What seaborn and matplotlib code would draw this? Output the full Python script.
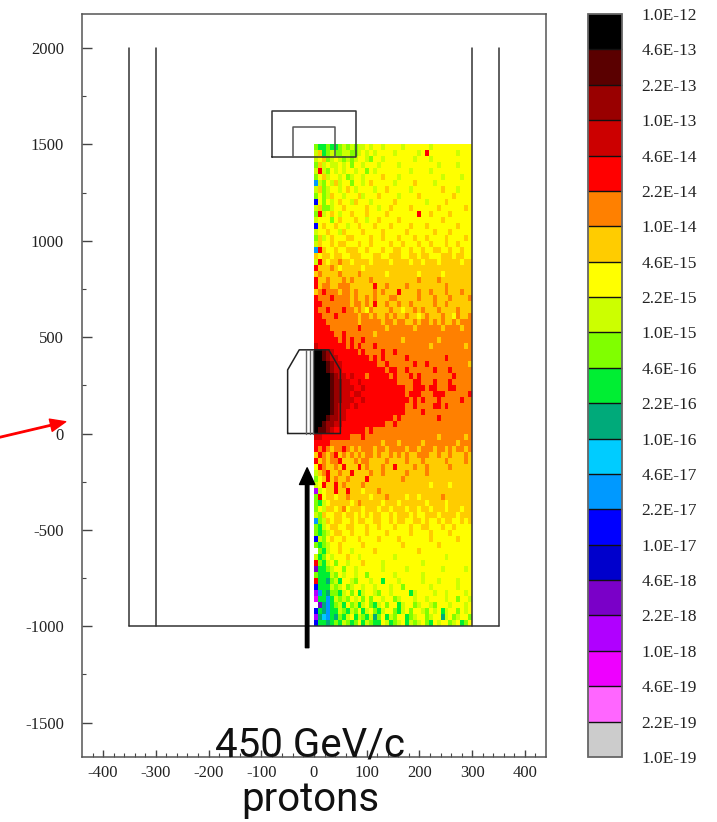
import numpy as np
import pandas as pd
import matplotlib
matplotlib.use("Agg")
import matplotlib.pyplot as plt
from matplotlib.colors import ListedColormap
import seaborn as sns

# colour classes, bottom of the scale first
level_colors = ["#cccccc", "#ff66ff", "#ee00ff", "#b000ff", "#7a00c8", "#0000cc", "#0000ff",
                "#0099ff", "#00ccff", "#00aa7a", "#00ee33", "#80ff00", "#ccff00", "#ffff00",
                "#ffcc00", "#ff8000", "#ff0000", "#cc0000", "#990000", "#5a0000", "#000000"]
level_labels = ["1.0E-19", "2.2E-19", "4.6E-19", "1.0E-18", "2.2E-18", "4.6E-18", "1.0E-17",
                "2.2E-17", "4.6E-17", "1.0E-16", "2.2E-16", "4.6E-16", "1.0E-15", "2.2E-15",
                "4.6E-15", "1.0E-14", "2.2E-14", "4.6E-14", "1.0E-13", "2.2E-13", "4.6E-13",
                "1.0E-12"]
level_codes = "abcdefghijklmnopqrstu"

# map: x 0..300, y 1500 (top) .. -1000, one letter = one colour class
map_rows = [
    "lkklkklmlmlmmnmnnmnnnnmnnnnnnmnnnnnnnnnn",
    "moklmllmmllmnmnmnnnnmnnnnnmnqnnnnnnnmnnn",
    "mnolmnmlmlmnnmlnnmnnnnnnnmnnnmnnnnnnnnnn",
    "lomnmmnmnlnnmnnnmnnnnmnnnnnnnnnmnnnnmnnn",
    "mqmlnmnmnnmnnlnmnnnnnnnnmnnnnmnnnnnnnnnn",
    "lnomnnmnlmnnmnnnnonnnmnnnnnnnnnnmnnnnmnn",
    "hmlnmomnnlnnmnonnnnnmnnnnonnnnmnnnnnnnnn",
    "molmnnmnonmnnnnmnnonnnnnmnnnnnnnonnnmnnn",
    "lnlmonnmnnnomnnnonnnnmnnnnonnnnnnnnonnnn",
    "gnlnmnonnmonnnmnnnnnonnnnnnnmnnnnonnnnnn",
    "mollmnnonnnnnonnmnnonnnnonnnnnnonnnnnnon",
    "lqmnonmnnonnnonnnnonnnnnnnqnnonnnnonnnnn",
    "mnnnlnonnnonnmnnonnnnonnnnnnnnnnonnnnnnn",
    "gnonnonnmnnonnnonnnonnnnonnnonnnnnnnonnn",
    "mnnonnmonnnnonnnnonnnnnonnnnnnonnnonnnnn",
    "lomnonnnoonnnnonnonnnonnnonnonnnnonnnnon",
    "monnonoonnnonnonnnnonnonnnonnonnnonnonnn",
    "hqonnonnooonnonnnonnoonnonnonnoonnonnonn",
    "onoonoonnooonnnoonnooonnoonoonnnooonoonn",
    "mqonoopoonoooonoooonoooonoonooonooooonoo",
    "qoooponooooonooooooooooooooooooooooooooo",
    "opoooopoooopoooooonooooooonooooonooooooo",
    "qoopooopopoooopooooooooooopoooopoooooooo",
    "qoppoopppooooooqoopoooopooooooooopoooooo",
    "opqpppoppopoooopopoooqoooopoopooopooopoo",
    "qpppqppppopoopopoooppooooopooopooopoooop",
    "qqpppppppoppopoqoopoopoopooooopoopoooooo",
    "qppqpppqppoponpoooopoonoopopooopoooopoo",
    "qqpppqpppppoppopoopopoopoonopooopoonpoop",
    "qqqppppppppopppppoppoppoopoppopopoopoppp",
    "qqqqpppppppqppppppoppppppoppppppoppppopp",
    "qqqqqppqpppppppopppppppppppppppppppppppp",
    "qqqqqqpqpqppqpppppppppoppppppppopppppppp",
    "rqqqqqqqpqpqpppqpppppppppppppoppppppppop",
    "uutsrqqqqqqpqppppqppqppppppppppppppppppp",
    "uutsrrqqqqqqqqpqpqpppppqpppppppppqpppppp",
    "uuutsrrqqqqqqqqqppqppppppqppqppppppppppo",
    "uuutsrrqqqqqqqqqqqpqqppqppppppqpppqppppp",
    "uuuutsrrqrqqqpqqqqqpqpppqpqppppppppqpppp",
    "uuuutssrrqqrqqqqqqqqqppppqqpppqpppqppppp",
    "uuuutssrrrqqrqqqqqqqqqqppqqqpqqpppqqpppp",
    "uuuutssrrqrrqqqqqqqqqqqpqqqpppqqqppppppq",
    "uuuutssrrrqqrqqqqqqqqqqqpqpqpppqpppppqpp",
    "uuuutsrrrqrqqqqqqqqqqqqppqppppqqpqpppppp",
    "uuuutsrrqqqqqqqqqqqqqqqppppqpppppppppppp",
    "uuutssrrqqqqqqqqqqqqpqpppppppppqpppppppp",
    "uutssrrqqqqqqqqqqqppqppppppppppppppppppp",
    "uttsrqqqqqqqqpqppppppppppppppppppppppppp",
    "rrqqqqqqqpppqppppppppppppppppppoppppppop",
    "qqqqpppppppppppppopppopppppoppppppppoppp",
    "qpqpoppqpopopppoppoppppoppopppoppopoppop",
    "oqpopqopopopoppopoopopopoopppoopoopooopo",
    "qopoppqooopoppoooopoooopooopooooopoooopo",
    "nqpoopoqoooqopooopooqoooopoopooooopooooo",
    "mopqoopooqoooopoopooooopoooopooooooooooo",
    "lnoqopoopooooqoooooooopooooooooooooooooo",
    "mnqooqopoooopoooooooooooooooonoooonooooo",
    "dmnooqooqooonooopooooooooooooooooooooooo",
    "lqnoonoopooooonooopoooonoonooooopooooooo",
    "lkmnooooonopooooonooonoooooonoooonoooooo",
    "lnmoonopnooonooonoonooonoonoonooonooonoo",
    "mlonnoonoonononoonnonooononnooonoooonooo",
    "hlmonoonnonoonnoonnonoonnoononnonoonnono",
    "lkmnoonnoonnnonnonnnonnnonnoonnnonnonnnn",
    "lklmnoonnonnnonnnnonnnnnonnnnonnnnonnnnn",
    "gmlnonnonnnonnnnonnnnonnnnnnnonnnnnnonnn",
    "lklmnnonnnnnonnnnnnnnnonnnnnnnnonnnnnnnn",
    ".lkmnnonnmnnnnnonnnnnnnnnnonnnnnnnnnnnnn",
    "mklnmnnnonnmnnnnnnnnmnnnnnnnnnnnnmnnnnnn",
    "qlkmnlnnmnnnonnnnmnnnnnnnnnmnnnnnnnnnnnn",
    "ekklmnnlnnmnnnnnnmnnnnnmnnnnnnnnmnnnnnmn",
    "lkkkmlnmnnmnnlnnnnnnmnnnnnnmnnnnnnnnnnnn",
    "qkkjlmknnmlnnnmnnknnnmnnnnnmnnnmnnnnmnnn",
    "gkkkmlmnlmnnmnnmnnnmnnlnnnnnnmnnnnnnmnnn",
    "dhkjllkmnlnkmnnmlnnmnnnnkmnnnnmnnmnnnnmn",
    "ckkhkmlmlnmnlnlnnmnnlmnnnmnnmnnnnmnnlnnm",
    ".ejhklmknlmkmnlkmnlnnkmnnlmnnmlnnnmnnnmn",
    "gkjhkkmlkmlnkmnlkmnnlkmnlnnmlnmnkmnnlnmn",
    "djihkjlkmnkmlkmjlnkmlnnklmnnlmnnjmnlmnnl",
    "gkkjklkmlklnkmlkknmklmnkmlmnlknmnnlmnkln",
]
map_levels = np.array([[level_codes.find(c) if c != "." else np.nan
                        for c in r.ljust(40, r[-1])[:40]] for r in map_rows]) + 0.5
map_df = pd.DataFrame(map_levels)

x_ticks = [-400, -300, -200, -100, 0, 100, 200, 300, 400]
y_ticks = [-1500, -1000, -500, 0, 500, 1000, 1500, 2000]
y_minor = [-1250, -750, -250, 250, 750, 1250, 1750]

# detector outline
wall_x = [-350, -300, 300, 350]
wall_y = [2000, -1000]
floor_x = [-350, 350]
floor_y = [-1000, -1000]
top_box_x = [-80, -80, 80, 80, -80]
top_box_y = [1435, 1675, 1675, 1435, 1435]
top_inner_x = [-40, -40, 40, 40]
top_inner_y = [1435, 1590, 1590, 1435]
target_x = [-50, -50, -28, 28, 50, 50, -50]
target_y = [0, 330, 434, 434, 330, 0, 0]
target_inner_x = [-16, -8, -1]
target_inner_y = [0, 434]

sns.set_theme(style="white")
plt.rcParams["font.family"] = ["Liberation Serif", "DejaVu Serif"]
plt.rcParams["axes.unicode_minus"] = False

W, H = 717, 822
fig = plt.figure(figsize=(W / 100, H / 100), dpi=100)
ax = fig.add_axes([82 / W, 1 - 757 / H, 464 / W, 743 / H])
ax.set_xlim(-440, 440)
ax.set_ylim(-1678, 2176)

# map sits below the outline lines
hm_ax = ax.inset_axes([0, -1000, 300, 2500], transform=ax.transData)
hm_ax.set_zorder(1)
cax = fig.add_axes([588 / W, 1 - 757 / H, 34 / W, 743 / H])
sns.heatmap(map_df, ax=hm_ax, cmap=ListedColormap(level_colors), vmin=0, vmax=21,
            xticklabels=False, yticklabels=False, cbar_ax=cax,
            cbar_kws={"ticks": list(range(22)), "drawedges": True})
hm_ax.tick_params(length=0)

cbar = hm_ax.collections[0].colorbar
cbar.set_ticklabels(level_labels)
cbar.ax.tick_params(length=0, pad=14, labelsize=12.5, colors="#222222")
cbar.dividers.set_color("#111111")
cbar.dividers.set_linewidth(1)
cbar.outline.set_edgecolor("#666666")
cbar.outline.set_linewidth(1.3)

# outline
line_kw = dict(color="#333333", lw=1.1, zorder=3)
for wx in wall_x:
    ax.plot([wx, wx], wall_y, **line_kw)
ax.plot(floor_x, floor_y, **line_kw)
ax.plot(top_box_x, top_box_y, **line_kw)
ax.plot(top_inner_x, top_inner_y, color="#555555", lw=1.1, zorder=3)
ax.plot(target_x, target_y, color="#222222", lw=1.1, zorder=3)
for tx in target_inner_x:
    ax.plot([tx, tx], target_inner_y, color="#666666", lw=1, zorder=3)

ax.annotate("", xy=(-13, -178), xytext=(-13, -1111), zorder=6,
            arrowprops=dict(facecolor="black", edgecolor="black", width=2.5, headwidth=11, headlength=12, shrinkA=0, shrinkB=0))
ax.annotate("", xy=(-471, 61), xytext=(-600, -22), annotation_clip=False,
            arrowprops=dict(facecolor="#ff0000", edgecolor="#ff0000", width=1, headwidth=9, headlength=11, shrinkA=0, shrinkB=0))

ax.set_xticks(x_ticks)
ax.set_yticks(y_ticks)
ax.set_xticks(np.arange(-420, 421, 20), minor=True)
ax.set_yticks(y_minor, minor=True)
ax.tick_params(axis="both", which="major", direction="in", length=5, width=1, color="#444444",
               labelsize=12, labelcolor="#222222", bottom=True, left=True)
ax.tick_params(axis="y", which="major", length=7, pad=13)
ax.tick_params(axis="x", which="major", pad=6)
ax.tick_params(axis="both", which="minor", direction="in", length=3, width=0.8, color="#444444", bottom=True, left=True)
for s in ax.spines.values():
    s.set_linewidth(1.1)
    s.set_color("#555555")

big_font = ["Liberation Sans Narrow", "Roboto", "Liberation Sans"]
fig.text(310 / W, 1 - 756 / H, "450 GeV/c", family=big_font, fontsize=29, ha="center", va="baseline", color="#111111")
fig.text(310 / W, 1 - 811 / H, "protons", family=big_font, fontsize=29, ha="center", va="baseline", color="#111111")

fig.savefig("out.png", dpi=100)
